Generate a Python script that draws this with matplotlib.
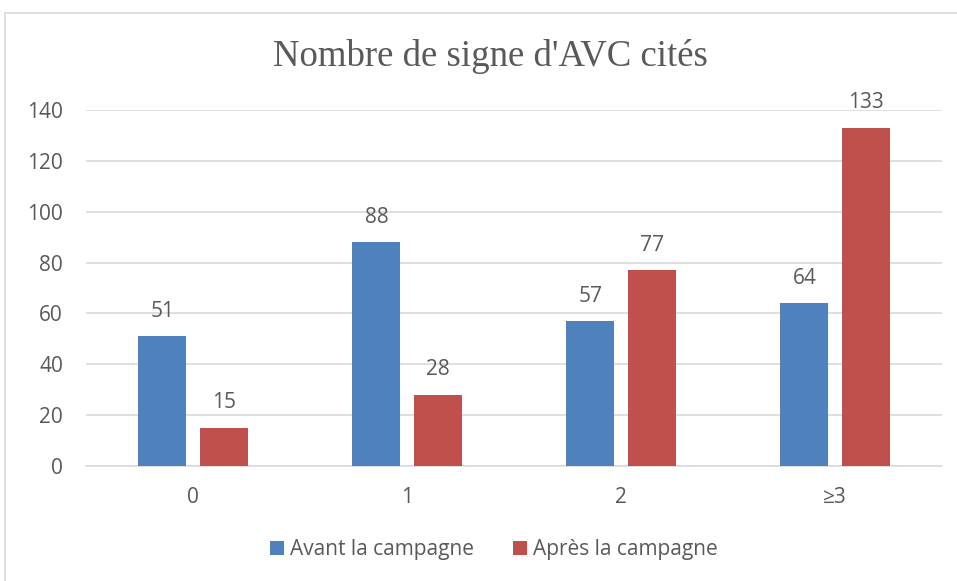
import matplotlib
matplotlib.use("Agg")
import matplotlib.pyplot as plt
from matplotlib.patches import Rectangle
import numpy as np

categories = ["0", "1", "2", "≥3"]
avant = [51, 88, 57, 64]
apres = [15, 28, 77, 133]
series_names = ["Avant la campagne", "Après la campagne"]
yticks = [0, 20, 40, 60, 80, 100, 120, 140]

BLUE = "#4f81bd"
RED = "#c0504d"
TXT = "#595959"
FONT = "Open Sans"
FS = 15

fig = plt.figure(figsize=(9.57, 5.81), dpi=100)
fig.patches.append(Rectangle((5/957, -0.01), 1.0, (581-13)/581 + 0.01, transform=fig.transFigure,
                             fill=False, edgecolor="#d9d9d9", linewidth=1.2))
ax = fig.add_axes([86/957, 115/581, 856/957, 356/581])

x = np.arange(len(categories))
w = 0.224
off = 0.143
b1 = ax.bar(x - off, avant, w, color=BLUE, label=series_names[0], zorder=3)
b2 = ax.bar(x + off, apres, w, color=RED, label=series_names[1], zorder=3)
for bars, vals in ((b1, avant), (b2, apres)):
    for rect, v in zip(bars, vals):
        ax.annotate(str(v), (rect.get_x() + rect.get_width()/2, v), xytext=(0, 18),
                    textcoords="offset points", ha="center", va="center",
                    fontsize=FS, color=TXT, family=FONT)

ax.set_xlim(-0.5, len(categories) - 0.5)
ax.set_ylim(0, 140)
ax.set_yticks(yticks)
ax.set_xticks(x)
ax.set_xticklabels(categories)
ax.yaxis.grid(True, color="#d9d9d9", linewidth=1.2, zorder=0)
ax.set_axisbelow(True)
for s in ["top", "right", "left"]:
    ax.spines[s].set_visible(False)
ax.spines["bottom"].set_color("#d9d9d9")
ax.spines["bottom"].set_linewidth(1.2)
ax.tick_params(axis="both", length=0, labelsize=FS, labelcolor=TXT)
ax.tick_params(axis="y", pad=16.5)
ax.tick_params(axis="x", pad=15)
for lbl in ax.get_xticklabels() + ax.get_yticklabels():
    lbl.set_family(FONT)

fig.text(490/957, 1 - 57/581, "Nombre de signe d'AVC cités", ha="center", va="center",
         fontsize=26.5, color=TXT, family="Liberation Serif")

fig.legend(handles=[b1, b2], loc="center", bbox_to_anchor=(494/957, 1 - 550/581), ncol=2,
           frameon=False, prop={"family": FONT, "size": FS}, labelcolor=TXT,
           handlelength=0.65, handleheight=0.65, handletextpad=0.3, columnspacing=1.9)

fig.savefig("out.png", dpi=100)
